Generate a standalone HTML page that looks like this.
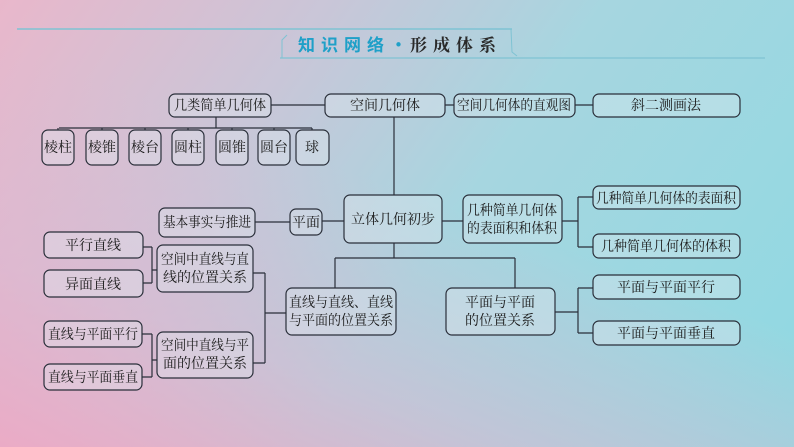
<!DOCTYPE html>
<html><head><meta charset="utf-8"><style>
html,body{margin:0;padding:0}
body{width:794px;height:447px;overflow:hidden;background:linear-gradient(125deg,#e9b7cb 0%,#c9c6d8 30%,#a6d6e0 55%,#8fd9e2 100%);position:relative}
#ov{position:absolute;left:0;top:0;width:794px;height:447px;background:linear-gradient(20deg,rgba(238,168,196,0.9) 0%,rgba(230,178,205,0.5) 25%,rgba(220,190,210,0) 55%)}
svg{position:absolute;left:0;top:0}
text{font-family:"Liberation Serif","Noto Serif CJK SC",serif;font-size:14px;fill:#1a1a1a}
.b{fill:rgba(225,235,242,0.35);stroke:#2a2f3a;stroke-width:1.2}
.l{stroke:#2a2f3a;stroke-width:1.2;fill:none}
</style></head><body><div id="ov"></div>
<svg width="794" height="447" viewBox="0 0 794 447">
<line x1="17" y1="29" x2="512" y2="29" stroke="#7fc3d3" stroke-width="1.5"/>
<line x1="280" y1="58" x2="765" y2="58" stroke="#7fc3d3" stroke-width="1.2"/>
<path d="M287 35 L282 40 L282 58 M511 29 L512 52 L517 56" stroke="#7fc3d3" fill="none"/>
<text x="298" y="51" style="font-family:'Noto Sans CJK SC',sans-serif;font-size:17px;font-weight:bold;fill:#1fa0c8;letter-spacing:6px">知识网络·</text>
<text x="410" y="51" style="font-size:17px;font-weight:bold;fill:#2a2a2a;letter-spacing:6px">形成体系</text>
<g class="l">
<path d="M271 105H325M445 105H454M575 105H593"/>
<path d="M216 117V128M59 128H312M58 128V130M102 128V130M145 128V130M188 128V130M232 128V130M274 128V130M312 128V130"/>
<path d="M394 117V195M322 221H344M255 222H290M442 221H463"/>
<path d="M562 221H578M578 197V247M578 197H593M578 247H593"/>
<path d="M394 243V258M335 258H515M335 258V288M515 258V288"/>
<path d="M143 247H152M143 283H152M152 247V283M152 270H157"/>
<path d="M253 273H265M265 273V363M253 363H265M265 313H286"/>
<path d="M142 334H152M142 377H152M152 334V377M152 360H157"/>
<path d="M555 312H578M578 288V333M578 288H593M578 333H593"/>
</g>
<g class="b">
<rect x="169" y="94" width="102" height="23" rx="6"/>
<rect x="325" y="94" width="120" height="23" rx="6"/>
<rect x="454" y="94" width="121" height="23" rx="6"/>
<rect x="593" y="94" width="147" height="23" rx="6"/>
<rect x="42" y="130" width="32" height="35" rx="6"/>
<rect x="86" y="130" width="32" height="35" rx="6"/>
<rect x="129" y="130" width="32" height="35" rx="6"/>
<rect x="172" y="130" width="32" height="35" rx="6"/>
<rect x="216" y="130" width="32" height="35" rx="6"/>
<rect x="258" y="130" width="32" height="35" rx="6"/>
<rect x="296" y="130" width="33" height="35" rx="6"/>
<rect x="344" y="195" width="98" height="48" rx="6"/>
<rect x="290" y="209" width="32" height="26" rx="6"/>
<rect x="159" y="208" width="96" height="29" rx="6"/>
<rect x="463" y="195" width="99" height="48" rx="6"/>
<rect x="593" y="186" width="147" height="23" rx="6"/>
<rect x="593" y="234" width="147" height="24" rx="6"/>
<rect x="44" y="232" width="99" height="26" rx="6"/>
<rect x="44" y="270" width="99" height="27" rx="6"/>
<rect x="157" y="245" width="96" height="47" rx="6"/>
<rect x="286" y="288" width="110" height="47" rx="6"/>
<rect x="446" y="288" width="109" height="47" rx="6"/>
<rect x="593" y="275" width="147" height="24" rx="6"/>
<rect x="593" y="321" width="147" height="24" rx="6"/>
<rect x="44" y="321" width="98" height="26" rx="6"/>
<rect x="44" y="364" width="98" height="26" rx="6"/>
<rect x="157" y="332" width="96" height="46" rx="6"/>
</g>
<g text-anchor="middle">
<text x="220" y="110" textLength="92" lengthAdjust="spacingAndGlyphs">几类简单几何体</text>
<text x="385" y="110">空间几何体</text>
<text x="514" y="110" textLength="114" lengthAdjust="spacingAndGlyphs">空间几何体的直观图</text>
<text x="666" y="110">斜二测画法</text>
<text x="58" y="152">棱柱</text><text x="102" y="152">棱锥</text><text x="145" y="152">棱台</text>
<text x="188" y="152">圆柱</text><text x="232" y="152">圆锥</text><text x="274" y="152">圆台</text><text x="312" y="152">球</text>
<text x="393" y="224">立体几何初步</text>
<text x="306" y="227">平面</text>
<text x="207" y="227" textLength="88" lengthAdjust="spacingAndGlyphs">基本事实与推进</text>
<text x="512" y="215" textLength="90" lengthAdjust="spacingAndGlyphs">几种简单几何体</text><text x="512" y="233" textLength="90" lengthAdjust="spacingAndGlyphs">的表面积和体积</text>
<text x="666" y="203" textLength="140" lengthAdjust="spacingAndGlyphs">几种简单几何体的表面积</text>
<text x="666" y="251" textLength="130" lengthAdjust="spacingAndGlyphs">几种简单几何体的体积</text>
<text x="93" y="250">平行直线</text>
<text x="93" y="289">异面直线</text>
<text x="205" y="264" textLength="88" lengthAdjust="spacingAndGlyphs">空间中直线与直</text><text x="205" y="282">线的位置关系</text>
<text x="341" y="307" textLength="104" lengthAdjust="spacingAndGlyphs">直线与直线、直线</text><text x="341" y="325" textLength="104" lengthAdjust="spacingAndGlyphs">与平面的位置关系</text>
<text x="500" y="307">平面与平面</text><text x="500" y="325">的位置关系</text>
<text x="666" y="292">平面与平面平行</text>
<text x="666" y="338">平面与平面垂直</text>
<text x="93" y="339" textLength="90" lengthAdjust="spacingAndGlyphs">直线与平面平行</text>
<text x="93" y="382" textLength="90" lengthAdjust="spacingAndGlyphs">直线与平面垂直</text>
<text x="205" y="350" textLength="88" lengthAdjust="spacingAndGlyphs">空间中直线与平</text><text x="205" y="368">面的位置关系</text>
</g>
</svg></body></html>
